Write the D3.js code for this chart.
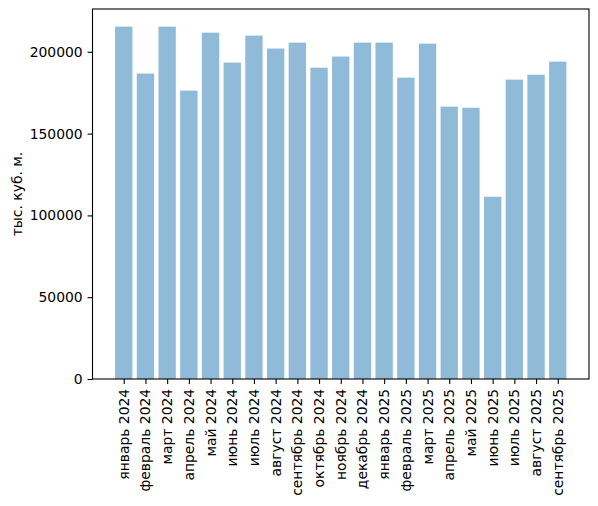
<!DOCTYPE html>
<html>
<head>
<meta charset="utf-8">
<script src="https://cdn.jsdelivr.net/npm/d3@7"></script>
<style>
  body { margin: 0; background: #fff; }
  svg { display: block; font-family: "DejaVu Sans", sans-serif; }
</style>
</head>
<body>
<svg id="chart" width="598" height="506"></svg>
<script>
// Monthly values, thousand cubic metres
const months = [
  "январь 2024", "февраль 2024", "март 2024", "апрель 2024", "май 2024",
  "июнь 2024", "июль 2024", "август 2024", "сентябрь 2024", "октябрь 2024",
  "ноябрь 2024", "декабрь 2024", "январь 2025", "февраль 2025", "март 2025",
  "апрель 2025", "май 2025", "июнь 2025", "июль 2025", "август 2025", "сентябрь 2025"
];
const volumes = [
  215400, 186700, 215400, 176300, 211700,
  193400, 209900, 202000, 205600, 190300,
  197100, 205600, 205600, 184200, 205000,
  166500, 165800, 111400, 183000, 186000, 194000
];
const yTicks = [0, 50000, 100000, 150000, 200000];
const yLabel = "тыс. куб. м.";

const svg = d3.select("#chart");
const width = 598, height = 506;
const margin = { left: 92.5, right: 9, top: 9, bottom: 127 };
const plotW = width - margin.left - margin.right;
const plotH = height - margin.top - margin.bottom;

// matplotlib-like limits: bar width 0.8, 5% margins
const n = months.length;
const x = d3.scaleLinear()
  .domain([-0.4 - 0.05 * (n - 0.2), n - 0.6 + 0.05 * (n - 0.2)])
  .range([margin.left, margin.left + plotW]);
const yMax = d3.max(volumes) * 1.05;
const y = d3.scaleLinear()
  .domain([0, yMax])
  .range([margin.top + plotH, margin.top]);

// Bars
svg.append("g")
  .selectAll("rect")
  .data(volumes)
  .enter()
  .append("rect")
  .attr("x", (d, i) => x(i - 0.4))
  .attr("width", (d, i) => x(i + 0.4) - x(i - 0.4))
  .attr("y", d => y(d))
  .attr("height", d => y(0) - y(d))
  .attr("fill", "#1f77b4")
  .attr("fill-opacity", 0.5);

// Y axis
const yAxis = svg.append("g")
  .attr("transform", `translate(${margin.left},0)`)
  .call(d3.axisLeft(y).tickValues(yTicks).tickFormat(d3.format("d")).tickSize(4.9).tickPadding(4.9));
yAxis.select(".domain").remove();
yAxis.selectAll("line").attr("stroke", "#000").attr("stroke-width", 1.1);
yAxis.selectAll("text")
  .attr("font-size", "13.9px")
  .attr("font-family", "DejaVu Sans, sans-serif")
  .attr("fill", "#000");

// X axis
const xAxis = svg.append("g")
  .attr("transform", `translate(0,${margin.top + plotH})`)
  .call(d3.axisBottom(x).tickValues(d3.range(n)).tickFormat(i => months[i]).tickSize(4.9).tickPadding(4.9));
xAxis.select(".domain").remove();
xAxis.selectAll("line").attr("stroke", "#000").attr("stroke-width", 1.1);
xAxis.selectAll("text")
  .attr("font-size", "13.9px")
  .attr("font-family", "DejaVu Sans, sans-serif")
  .attr("fill", "#000")
  .attr("transform", "rotate(-90)")
  .attr("text-anchor", "end")
  .attr("x", -9.8)
  .attr("y", 0)
  .attr("dy", "0.32em");

// Frame
svg.append("rect")
  .attr("x", margin.left)
  .attr("y", margin.top)
  .attr("width", plotW)
  .attr("height", plotH)
  .attr("fill", "none")
  .attr("stroke", "#000")
  .attr("stroke-width", 1.1);

// Y label
svg.append("text")
  .attr("transform", `translate(17,${margin.top + plotH / 2}) rotate(-90)`)
  .attr("text-anchor", "middle")
  .attr("dy", "0.35em")
  .attr("font-size", "13.9px")
  .attr("fill", "#000")
  .text(yLabel);
</script>
</body>
</html>
